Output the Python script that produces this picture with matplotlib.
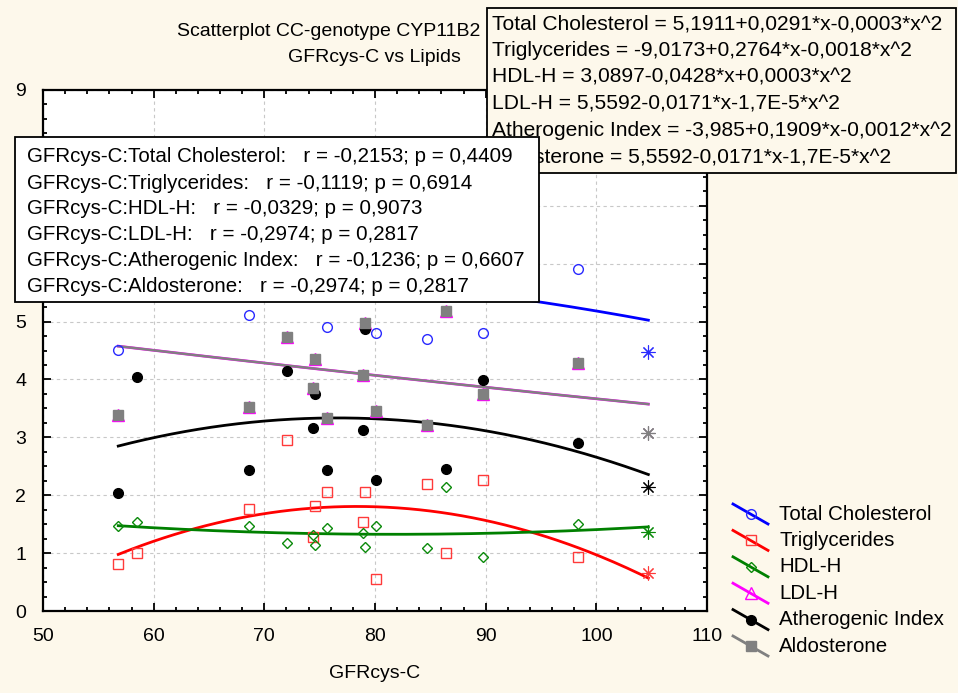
import numpy as np
import matplotlib.pyplot as plt
from matplotlib.patches import Rectangle
from matplotlib.lines import Line2D
from matplotlib.ticker import MultipleLocator

plt.rcParams['font.family'] = ['Liberation Sans', 'DejaVu Sans']

W, H = 958, 693
BG = '#fdf8eb'

# ── data (cases hidden behind the boxes are estimated) ──
gfr = [56.8, 58.5, 68.6, 72.05, 74.4, 74.6, 75.7, 78.9, 79.1, 80.05, 84.7, 86.4, 89.8, 98.35, 104.7]
tot_chol = [4.51, 8.0, 5.11, 5.8, 5.8, 5.8, 4.91, 6.15, 6.2, 4.81, 4.70, 7.75, 4.81, 5.90, 4.47]
trigl = [0.82, 1.00, 1.76, 2.95, 1.27, 1.82, 2.06, 1.54, 2.06, 0.55, 2.19, 1.00, 2.26, 0.93, 0.66]
hdl = [1.46, 1.53, 1.46, 1.18, 1.31, 1.14, 1.43, 1.35, 1.11, 1.46, 1.08, 2.15, 0.94, 1.50, 1.37]
ldl = [3.39, 6.3, 3.53, 4.73, 3.85, 4.35, 3.33, 4.08, 4.98, 3.46, 3.22, 5.19, 3.74, 4.29, 3.07]
athero = [2.04, 4.05, 2.44, 4.15, 3.16, 3.74, 2.44, 3.13, 4.87, 2.26, 3.22, 2.46, 3.99, 2.91, 2.15]
aldo = [3.39, 6.3, 3.53, 4.73, 3.85, 4.35, 3.33, 4.08, 4.98, 3.46, 3.22, 5.19, 3.74, 4.29, 3.07]

names = ['Total Cholesterol', 'Triglycerides', 'HDL-H', 'LDL-H', 'Atherogenic Index', 'Aldosterone']
corr_r = ['-0,2153', '-0,1119', '-0,0329', '-0,2974', '-0,1236', '-0,2974']
corr_p = ['0,4409', '0,6914', '0,9073', '0,2817', '0,6607', '0,2817']
equations = [
    'Total Cholesterol = 5,1911+0,0291*x-0,0003*x^2',
    'Triglycerides = -9,0173+0,2764*x-0,0018*x^2',
    'HDL-H = 3,0897-0,0428*x+0,0003*x^2',
    'LDL-H = 5,5592-0,0171*x-1,7E-5*x^2',
    'Atherogenic Index = -3,985+0,1909*x-0,0012*x^2',
    'Aldosterone = 5,5592-0,0171*x-1,7E-5*x^2',
]

# values, line colour, marker kwargs, fit line width
STYLES = [
    (tot_chol, 'blue', dict(marker='o', ms=7, mfc='none', mec='#2a2aff', mew=1.0), 2.0),
    (trigl, 'red', dict(marker='s', ms=7.5, mfc='none', mec='#ff3a3a', mew=1.0), 2.0),
    (hdl, 'green', dict(marker='D', ms=5.5, mfc='none', mec='#0a8a0a', mew=1.0), 2.0),
    (ldl, 'magenta', dict(marker='^', ms=8, mfc='none', mec='magenta', mew=1.0), 2.0),
    (athero, 'black', dict(marker='o', ms=7, mfc='black', mec='black', mew=1.0), 2.0),
    (aldo, 'gray', dict(marker='s', ms=7.5, mfc='gray', mec='gray', mew=1.0), 1.7),
]


def fx(px):
    return px / W


def fy(py):
    return 1 - py / H


fig = plt.figure(figsize=(W / 100, H / 100), dpi=100, facecolor=BG)
ax = fig.add_axes([fx(43), fy(611), (707 - 43) / W, (611 - 90) / H])
ax.set_facecolor('white')

# quadratic fits
x = np.array(gfr)
xf = np.linspace(x.min(), x.max(), 200)
for vals, col, mk, lw in STYLES:
    coef = np.polyfit(x, np.array(vals), 2)
    ax.plot(xf, np.polyval(coef, xf), color=col, lw=lw, zorder=3)
for vals, col, mk, lw in STYLES:
    y = np.array(vals)
    ax.plot(x[:-1], y[:-1], ls='none', zorder=4, **mk)
    # last case drawn as an asterisk
    ax.plot(x[-1:], y[-1:], ls='none', marker=(8, 2, 0), ms=10, mew=0.8,
            color=mk['mec'] if col != 'magenta' else '#9a7a9a', zorder=4)

ax.set_xlim(50, 110)
ax.set_ylim(0, 9)
ax.xaxis.set_major_locator(MultipleLocator(10))
ax.xaxis.set_minor_locator(MultipleLocator(2))
ax.yaxis.set_major_locator(MultipleLocator(1))
ax.yaxis.set_minor_locator(MultipleLocator(0.25))
ax.tick_params(which='both', direction='in', top=True, right=True, width=1.3)
ax.tick_params(which='major', length=6, labelsize=14, pad=12)
ax.tick_params(which='minor', length=3)
ax.grid(which='major', color='#c8c8c8', ls=(0, (3, 3)), lw=0.8, zorder=0)
ax.set_axisbelow(True)
for s in ax.spines.values():
    s.set_linewidth(1.6)
ax.set_xlabel('GFRcys-C', fontsize=14, labelpad=15)

# title (partly hidden by the equation box)
fig.text(fx(177), fy(31), 'Scatterplot CC-genotype CYP11B2', ha='left', va='center',
         fontsize=14, zorder=1)
fig.text(fx(374), fy(58), 'GFRcys-C vs Lipids', ha='center', va='center',
         fontsize=14, zorder=1)

# equation box (upper right)
fig.add_artist(Rectangle((fx(487), fy(173)), (956 - 487) / W, (173 - 8) / H,
                         transform=fig.transFigure, fc=BG, ec='black', lw=1.3, zorder=5))
for i, eq in enumerate(equations):
    fig.text(fx(492), fy(24 + 26.6 * i), eq, ha='left', va='center', fontsize=15.1, zorder=6)

# correlation box (upper left)
fig.add_artist(Rectangle((fx(15), fy(302)), (539 - 15) / W, (302 - 137) / H,
                         transform=fig.transFigure, fc='white', ec='black', lw=1.3, zorder=7))
for i, (n, r, p) in enumerate(zip(names, corr_r, corr_p)):
    fig.text(fx(27), fy(157 + 26 * i), f'GFRcys-C:{n}:   r = {r}; p = {p}',
             ha='left', va='center', fontsize=14.8, zorder=8)

# legend with slanted handles
for i, (n, (vals, col, mk, lw)) in enumerate(zip(names, STYLES)):
    yc = 514 + 26.4 * i
    fig.add_artist(Line2D([fx(733), fx(768)], [fy(yc - 10), fy(yc + 10)],
                          transform=fig.transFigure, color=col, lw=2.0, zorder=9))
    fig.add_artist(Line2D([fx(751)], [fy(yc)], transform=fig.transFigure, ls='none',
                          zorder=10, **mk))
    fig.text(fx(779), fy(yc), n, ha='left', va='center', fontsize=14.8, zorder=10)

fig.savefig('out.png', dpi=100, facecolor=BG)
